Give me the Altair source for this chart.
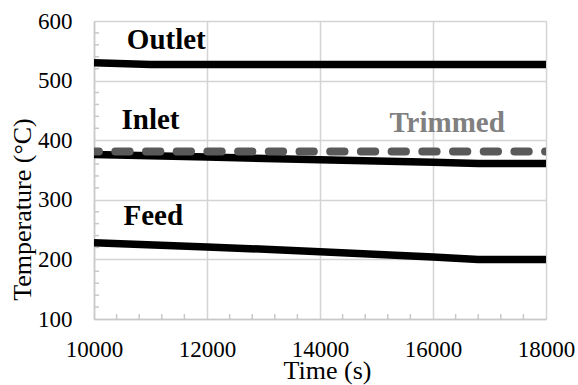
import altair as alt
import pandas as pd

# Data
outlet_t = [10000, 11000, 18000]
outlet_v = [530, 527, 527]
inlet_t = [10000, 12000, 14000, 16000, 16800, 18000]
inlet_v = [376, 372, 367, 363, 361, 361]
feed_t = [10000, 12000, 14000, 16000, 16800, 18000]
feed_v = [228, 221, 213, 204, 200, 200]
trim_t = [10000, 18000]
trim_v = [381, 381]

label_text = ["Outlet", "Inlet", "Feed", "Trimmed"]
label_t = [11280, 11000, 11050, 16250]
label_v = [568, 434, 272, 429]
label_col = ["black", "black", "black", "gray"]

x_major = [10000, 12000, 14000, 16000, 18000]
y_major = [100, 200, 300, 400, 500, 600]
x_minor = [v for v in range(10400, 18000, 400) if v % 2000 != 0]
y_minor = [v for v in range(120, 600, 20) if v % 100 != 0]

FONT = "Liberation Serif"
W, H = 452, 298
X0, X1, Y0, Y1 = 10000, 18000, 100, 600
TICK_PX = 5

rows = []
for name, ts, vs in [("Outlet", outlet_t, outlet_v), ("Inlet", inlet_t, inlet_v),
                     ("Feed", feed_t, feed_v)]:
    for t, v in zip(ts, vs):
        rows.append({"series": name, "t": t, "v": v})
solid = pd.DataFrame(rows)
trim = pd.DataFrame({"t": trim_t, "v": trim_v})
labels = pd.DataFrame({"text": label_text, "t": label_t, "v": label_v, "col": label_col})

# minor tick tables (inward ticks along bottom and left edges)
xm = pd.DataFrame({"t": x_minor, "v0": [Y0] * len(x_minor),
                   "v1": [Y0 + TICK_PX / H * (Y1 - Y0)] * len(x_minor)})
ym = pd.DataFrame({"v": y_minor, "t0": [X0] * len(y_minor),
                   "t1": [X0 + TICK_PX / W * (X1 - X0)] * len(y_minor)})

xs = alt.Scale(domain=[X0, X1], nice=False, zero=False)
ys = alt.Scale(domain=[Y0, Y1], nice=False, zero=False)

x_axis = alt.Axis(values=x_major, title="Time (s)", grid=True, gridColor="#d4d4d4",
                  gridWidth=1.5, domainColor="#c8c8c8", domainWidth=1.5, ticks=False,
                  labelFont=FONT, labelFontSize=23, labelColor="black", labelPadding=19,
                  labelFlush=False, labelOverlap=False,
                  titleFont=FONT, titleFontSize=26, titleFontWeight="normal",
                  titleColor="black", titleBaseline="alphabetic", titleAlign="center",
                  titleX=233, titleY=59, format="d")
y_axis = alt.Axis(values=y_major, title="Temperature (°C)", grid=True, gridColor="#d4d4d4",
                  gridWidth=1.5, domainColor="#c8c8c8", domainWidth=1.5, ticks=False,
                  labelFont=FONT, labelFontSize=23, labelColor="black", labelPadding=22,
                  labelFlush=False, labelOverlap=False,
                  titleFont=FONT, titleFontSize=26, titleFontWeight="normal",
                  titleColor="black", titleBaseline="alphabetic", titleAlign="center",
                  titleAngle=270, titleX=-64, titleY=188, format="d")

lines = alt.Chart(solid).mark_line(strokeWidth=7.5, color="black", clip=True).encode(
    x=alt.X("t:Q", scale=xs, axis=x_axis),
    y=alt.Y("v:Q", scale=ys, axis=y_axis),
    detail="series:N",
)

dashed = alt.Chart(trim).mark_line(strokeWidth=8, color="#595959", strokeDash=[14.3, 16.4],
                                   strokeDashOffset=9.4, strokeCap="round", clip=True).encode(
    x=alt.X("t:Q", scale=xs),
    y=alt.Y("v:Q", scale=ys),
)

text = alt.Chart(labels).mark_text(font=FONT, fontSize=29, fontWeight="bold").encode(
    x=alt.X("t:Q", scale=xs),
    y=alt.Y("v:Q", scale=ys),
    text="text:N",
    color=alt.Color("col:N", scale=alt.Scale(domain=["black", "gray"],
                                             range=["black", "#808080"]), legend=None),
)

xminor = alt.Chart(xm).mark_rule(color="#c8c8c8", strokeWidth=1.5).encode(
    x=alt.X("t:Q", scale=xs),
    y=alt.Y("v0:Q", scale=ys),
    y2="v1:Q",
)
yminor = alt.Chart(ym).mark_rule(color="#c8c8c8", strokeWidth=1.5).encode(
    y=alt.Y("v:Q", scale=ys),
    x=alt.X("t0:Q", scale=xs),
    x2="t1:Q",
)

chart = alt.layer(xminor, yminor, lines, dashed, text).properties(
    width=W, height=H,
    autosize=alt.AutoSizeParams(type="none"),
    padding={"left": 94, "top": 21, "right": 32, "bottom": 66},
).configure_view(stroke="#d0d0d0", strokeWidth=1.5).configure_axis(
    labelFont=FONT, titleFont=FONT
).configure(background="white")

chart.save("out.html", embed_options={"renderer": "svg", "actions": False})
